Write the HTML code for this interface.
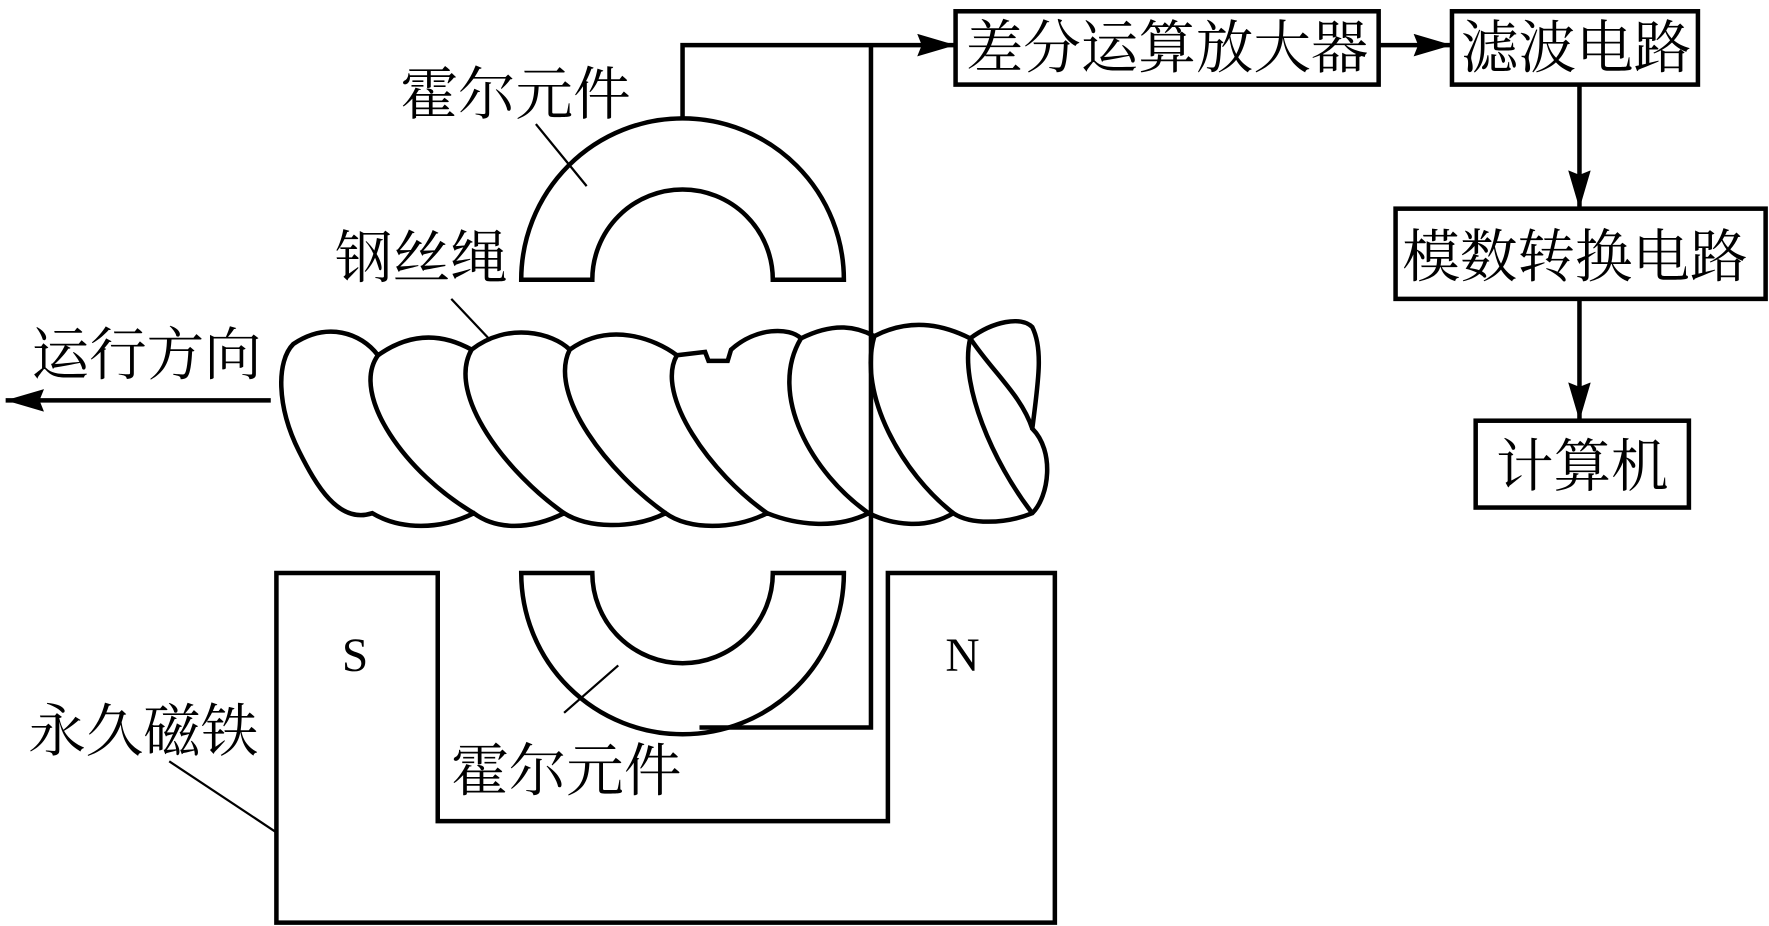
<!DOCTYPE html>
<html><head><meta charset="utf-8"><style>
html,body{margin:0;padding:0;background:#fff;}
svg{display:block;}
text{font-family:"Liberation Serif","Noto Serif CJK SC","Noto Sans CJK SC",serif;fill:#000;}
</style></head><body>
<svg width="1769" height="926" viewBox="0 0 1568 821" preserveAspectRatio="none">
<defs>
<marker id="b" markerWidth="34" markerHeight="20" refX="34" refY="10" orient="auto" markerUnits="userSpaceOnUse"><path d="M0,0 L34,10 L0,20 L4,10 Z" fill="#000"/></marker></defs>
<g fill="none" stroke="#000" stroke-width="4">
<rect x="847" y="10" width="375" height="65"/>
<rect x="1287" y="10" width="218" height="65"/>
<rect x="1237" y="185" width="328" height="80"/>
<rect x="1308" y="373" width="189" height="77"/>
<line x1="1222" y1="40" x2="1287" y2="40" marker-end="url(#b)"/>
<line x1="1400" y1="75" x2="1400" y2="185" marker-end="url(#b)"/>
<line x1="1400" y1="265" x2="1400" y2="373" marker-end="url(#b)"/>
<polyline points="605,105 605,40 847,40" marker-end="url(#b)"/>
<polyline points="772,40 772,645 620,645"/>
<path d="M462,248 A143,143 0 0 1 748,248 L685,248 A80,80 0 0 0 525,248 Z"/>
<path d="M462,508 A143,143 0 0 0 748,508 L685,508 A80,80 0 0 1 525,508 Z"/>
<path d="M245,508 L388,508 L388,728 L787,728 L787,508 L935,508 L935,818 L245,818 Z"/>
<path d="M260,305 C290,285 320,295 335,315 C370,290 400,300 418,310 C450,285 490,295 505,310 C540,285 580,300 600,315 L625,312 L628,320 L645,320 L648,310 C670,290 700,290 710,300 C740,285 760,290 775,298 C810,280 840,290 860,300 C880,285 905,280 915,290 C925,310 920,340 915,380 C935,400 930,440 915,455 C890,465 860,465 845,455 C820,470 790,465 770,455 C740,470 705,465 680,455 C650,470 610,470 590,455 C560,470 520,468 500,455 C470,470 440,470 420,455 C390,470 355,470 330,455 C300,465 280,430 265,400 C245,360 245,320 260,305 Z"/>
<path d="M335,315 C310,350 360,420 420,455"/>
<path d="M418,310 C395,350 450,420 500,455"/>
<path d="M505,310 C485,350 540,420 590,455"/>
<path d="M600,315 C580,350 630,420 680,455"/>
<path d="M710,300 C680,350 720,420 770,455"/>
<path d="M775,298 C760,350 800,420 845,455"/>
<path d="M860,300 C850,340 880,410 915,455"/>
<path d="M860,300 C880,330 905,350 915,380"/>
<line x1="240" y1="355" x2="5" y2="355" marker-end="url(#b)"/>
</g>
<g stroke="#000" stroke-width="2">
<line x1="475" y1="110" x2="520" y2="165"/>
<line x1="400" y1="265" x2="435" y2="302"/>
<line x1="150" y1="675" x2="245" y2="738"/>
<line x1="500" y1="632" x2="548" y2="590"/>
</g>
<g font-size="51">
<text x="856" y="60">差分运算放大器</text>
<text x="1295" y="60">滤波电路</text>
<text x="1243" y="245">模数转换电路</text>
<text x="1326" y="431">计算机</text>
<text x="355" y="101">霍尔元件</text>
<text x="297" y="246">钢丝绳</text>
<text x="28" y="332">运行方向</text>
<text x="25" y="666">永久磁铁</text>
<text x="400" y="701">霍尔元件</text>
<text x="303" y="595" font-size="42">S</text>
<text x="838" y="595" font-size="42">N</text>
</g>
</svg>
</body></html>
